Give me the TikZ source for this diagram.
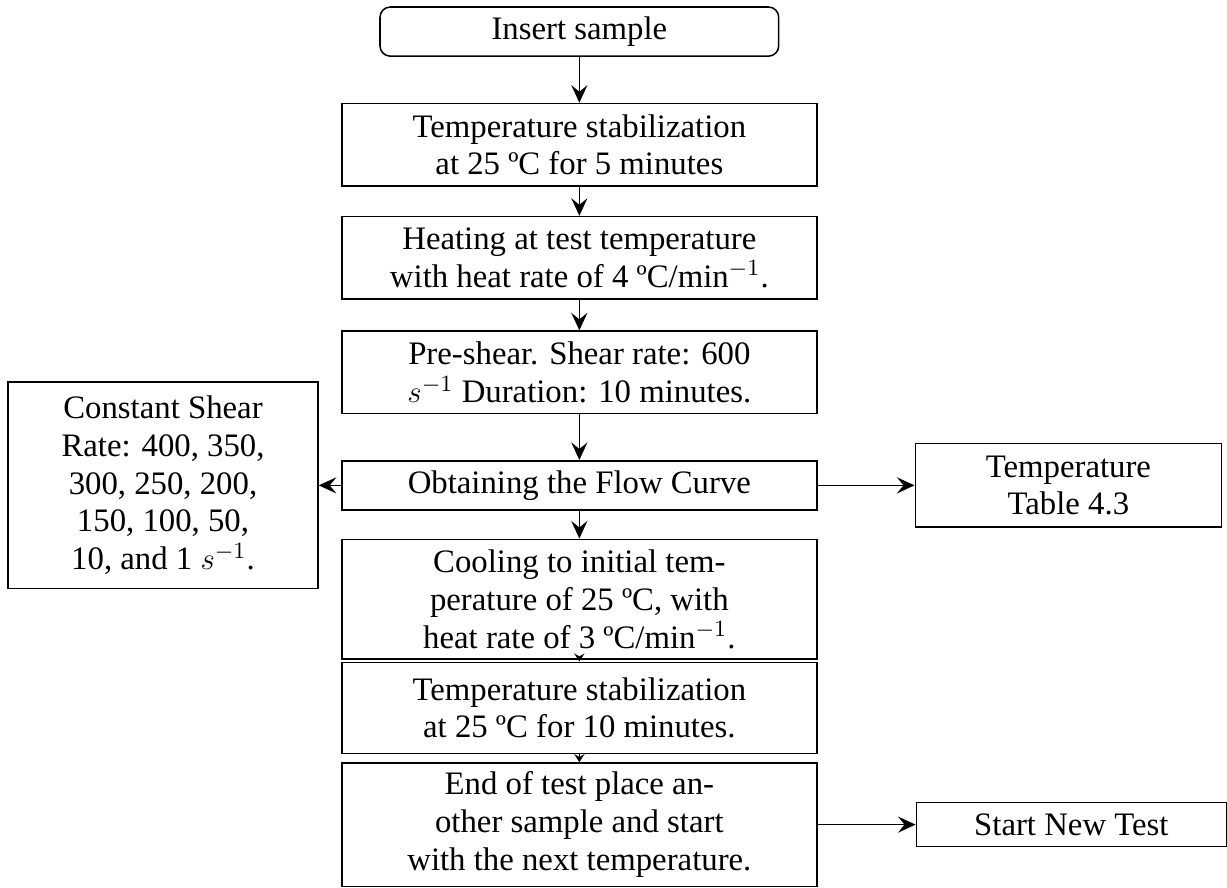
\documentclass[tikz,border=0pt]{standalone}
\usepackage{fontspec}
\setmainfont{Liberation Serif}
\usetikzlibrary{arrows.meta,positioning}
\tikzset{
  box/.style={draw, rectangle, semithick, align=center, font=\fontsize{12.7}{14.6}\selectfont, minimum height=6.7mm, inner sep=3pt, fill=white},
  mainbox/.style={box, minimum width=6.47cm},
  sidebox/.style={box, minimum width=4.22cm},
  arr/.style={-{Stealth[length=2.4mm, width=2.2mm, inset=0.9mm]}, semithick},
  shortarr/.style={-{Stealth[length=1.1mm, width=1.4mm, inset=0.4mm]}, semithick},
}
\begin{document}
\begin{tikzpicture}[x=1cm,y=1cm]
\useasboundingbox (0,0) rectangle (16.71,-12.09);
\node[box, rounded corners=4pt, minimum width=5.43cm] (ins) at (7.89,-0.43) {Insert sample};
\node[mainbox, minimum height=11.2mm] (stab1) at (7.89,-1.97) {Temperature stabilization\\at 25 ºC for 5 minutes};
\node[mainbox, minimum height=11.2mm] (heat) at (7.89,-3.51) {Heating at test temperature\\with heat rate of 4 ºC/min$^{-1}$.};
\node[mainbox, minimum height=11.2mm] (pre) at (7.89,-5.07) {Pre-shear. Shear rate: 600\\$s^{-1}$ Duration: 10 minutes.};
\node[mainbox] (flow) at (7.89,-6.61) {Obtaining the Flow Curve};
\node[mainbox, minimum height=16.3mm] (cool) at (7.89,-8.16) {Cooling to initial tem-\\perature of 25 ºC, with\\heat rate of 3 ºC/min$^{-1}$.};
\node[mainbox, minimum height=12.4mm] (stab2) at (7.89,-9.64) {Temperature stabilization\\at 25 ºC for 10 minutes.};
\node[mainbox, minimum height=16.8mm] (fin) at (7.89,-11.23) {End of test place an-\\other sample and start\\with the next temperature.};
\node[sidebox, minimum height=28.1mm] (rates) at (2.22,-6.61) {Constant Shear\\Rate: 400, 350,\\300, 250, 200,\\150, 100, 50,\\10, and 1 $s^{-1}$.};
\node[sidebox, minimum width=4.17cm, minimum height=11.4mm] (tabl) at (14.55,-6.61) {Temperature\\Table 4.3};
\node[sidebox, minimum height=6.0mm] (newt) at (14.59,-11.23) {Start New Test};
\draw[arr] (ins) -- (stab1);
\draw[arr] (stab1) -- (heat);
\draw[arr] (heat) -- (pre);
\draw[arr] (pre) -- (flow);
\draw[arr] (flow) -- (cool);
\draw[shortarr] (cool) -- (stab2);
\draw[shortarr] (stab2) -- (fin);
\draw[arr] (flow) -- (rates);
\draw[arr] (flow) -- (tabl);
\draw[arr] (fin) -- (newt);
\end{tikzpicture}
\end{document}
